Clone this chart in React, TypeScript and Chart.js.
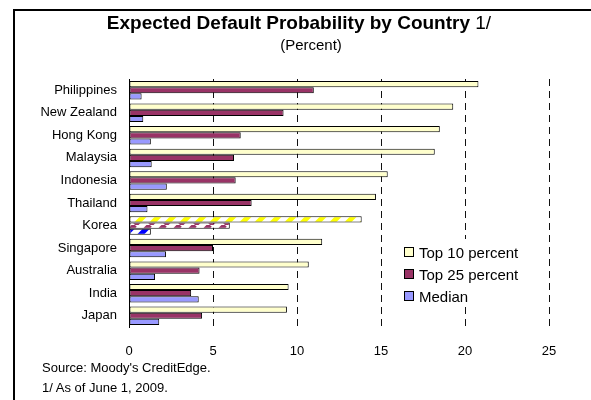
import React, { useEffect, useRef } from "react";
import { Chart, registerables } from "chart.js";

Chart.register(...registerables);

const categories = [
  "Philippines",
  "New Zealand",
  "Hong Kong",
  "Malaysia",
  "Indonesia",
  "Thailand",
  "Korea",
  "Singapore",
  "Australia",
  "India",
  "Japan",
];

const top10Percent = [20.8, 19.3, 18.5, 18.2, 15.4, 14.7, 13.85, 11.5, 10.7, 9.5, 9.4];
const top25Percent = [11.0, 9.2, 6.65, 6.25, 6.35, 7.3, 6.0, 5.0, 4.2, 3.7, 4.35];
const medianValues = [0.75, 0.85, 1.3, 1.35, 2.25, 1.1, 1.3, 2.2, 1.55, 4.15, 1.8];

const seriesLabels = ["Top 10 percent", "Top 25 percent", "Median"];
const xTicks = [0, 5, 10, 15, 20, 25];

// Korea is highlighted with striped fills
const highlighted = "Korea";

const FONT = "'Liberation Sans', Arial, Helvetica, sans-serif";

const fills = ["#FFFFCC", "#993366", "#9999FF"];
const stripeInks = ["#FFFF00", "#993366", "#0000FF"];

function stripePattern(ink: string): CanvasPattern | string {
  const s = 15;
  const c = document.createElement("canvas");
  c.width = s;
  c.height = s;
  const g = c.getContext("2d");
  if (!g) return ink;
  g.fillStyle = "#FFFFFF";
  g.fillRect(0, 0, s, s);
  g.strokeStyle = ink;
  g.lineWidth = 5;
  for (const k of [-s, 0, s]) {
    g.beginPath();
    g.moveTo(k, s);
    g.lineTo(k + s, 0);
    g.stroke();
  }
  const p = g.createPattern(c, "repeat");
  return p || ink;
}

export default function App() {
  const canvasRef = useRef<HTMLCanvasElement | null>(null);

  useEffect(() => {
    const canvas = canvasRef.current;
    if (!canvas) return;
    Chart.defaults.font.family = FONT;
    Chart.defaults.color = "#000";

    const values = [top10Percent, top25Percent, medianValues];
    const datasets = values.map((data, i) => {
      const pat = stripePattern(stripeInks[i]);
      return {
        label: seriesLabels[i],
        data,
        backgroundColor: categories.map((c) => (c === highlighted ? pat : fills[i])),
        borderColor: "#000",
        borderWidth: 1,
        borderSkipped: false as const,
        categoryPercentage: 0.82,
        barPercentage: 1.0,
      };
    });

    const chart = new Chart(canvas, {
      type: "bar",
      data: { labels: categories, datasets: datasets as any },
      options: {
        indexAxis: "y",
        animation: false,
        responsive: false,
        maintainAspectRatio: false,
        layout: { padding: { left: 0, right: 42, top: 79, bottom: 0 } },
        plugins: {
          legend: { display: false },
          tooltip: { enabled: false },
          title: { display: false },
        },
        scales: {
          x: {
            type: "linear",
            min: 0,
            max: 25,
            afterBuildTicks: (scale: any) => {
              scale.ticks = xTicks.map((v) => ({ value: v }));
            },
            afterFit: (scale: any) => {
              scale.height = 73;
            },
            ticks: {
              font: { size: 13 },
              color: "#000",
              padding: 17,
            },
            grid: {
              drawTicks: false,
              color: (ctx: any) => (ctx.tick && ctx.tick.value === 0 ? "rgba(0,0,0,0)" : "#111"),
              lineWidth: 1,
            },
            border: { display: false, dash: [7, 5] },
          },
          y: {
            type: "category",
            afterFit: (scale: any) => {
              scale.width = 129;
            },
            ticks: {
              font: { size: 13 },
              color: "#000",
              padding: 12,
            },
            grid: { display: false, drawTicks: false },
            border: { display: true, color: "#000", width: 1 },
          },
        },
      },
    });
    return () => chart.destroy();
  }, []);

  const textBase: React.CSSProperties = {
    position: "absolute",
    fontFamily: FONT,
    color: "#000",
    whiteSpace: "nowrap",
  };

  return (
    <div
      style={{
        position: "fixed",
        left: 0,
        top: 0,
        width: 591,
        height: 400,
        overflow: "hidden",
        background: "#fff",
      }}
    >
      <canvas ref={canvasRef} width={591} height={400} style={{ position: "absolute", left: 0, top: 0 }} />
      <div
        style={{
          position: "absolute",
          left: 13,
          top: 9,
          right: 0,
          bottom: 0,
          borderLeft: "2px solid #000",
          borderTop: "2px solid #000",
          pointerEvents: "none",
        }}
      />
      <div style={{ ...textBase, left: 0, width: 598, top: 12, textAlign: "center", fontSize: 19, lineHeight: "22px" }}>
        <b>Expected Default Probability by Country</b> 1/
      </div>
      <div style={{ ...textBase, left: 0, width: 622, top: 36, textAlign: "center", fontSize: 15, lineHeight: "18px" }}>
        (Percent)
      </div>
      <div
        style={{
          position: "absolute",
          left: 396,
          top: 239,
          width: 128,
          height: 68,
          background: "#fff",
        }}
      >
        {seriesLabels.map((lab, i) => (
          <div key={lab} style={{ position: "absolute", left: 8, top: 3 + i * 22, height: 20, display: "flex", alignItems: "center" }}>
            <span
              style={{
                display: "inline-block",
                width: 8,
                height: 8,
                border: "1px solid #000",
                background: fills[i],
                marginRight: 5,
              }}
            />
            <span style={{ fontFamily: FONT, fontSize: 15, color: "#000" }}>{lab}</span>
          </div>
        ))}
      </div>
      <div style={{ ...textBase, left: 42, top: 360, fontSize: 13, lineHeight: "16px" }}>Source: Moody's CreditEdge.</div>
      <div style={{ ...textBase, left: 42, top: 380, fontSize: 13, lineHeight: "16px" }}>1/ As of June 1, 2009.</div>
    </div>
  );
}
